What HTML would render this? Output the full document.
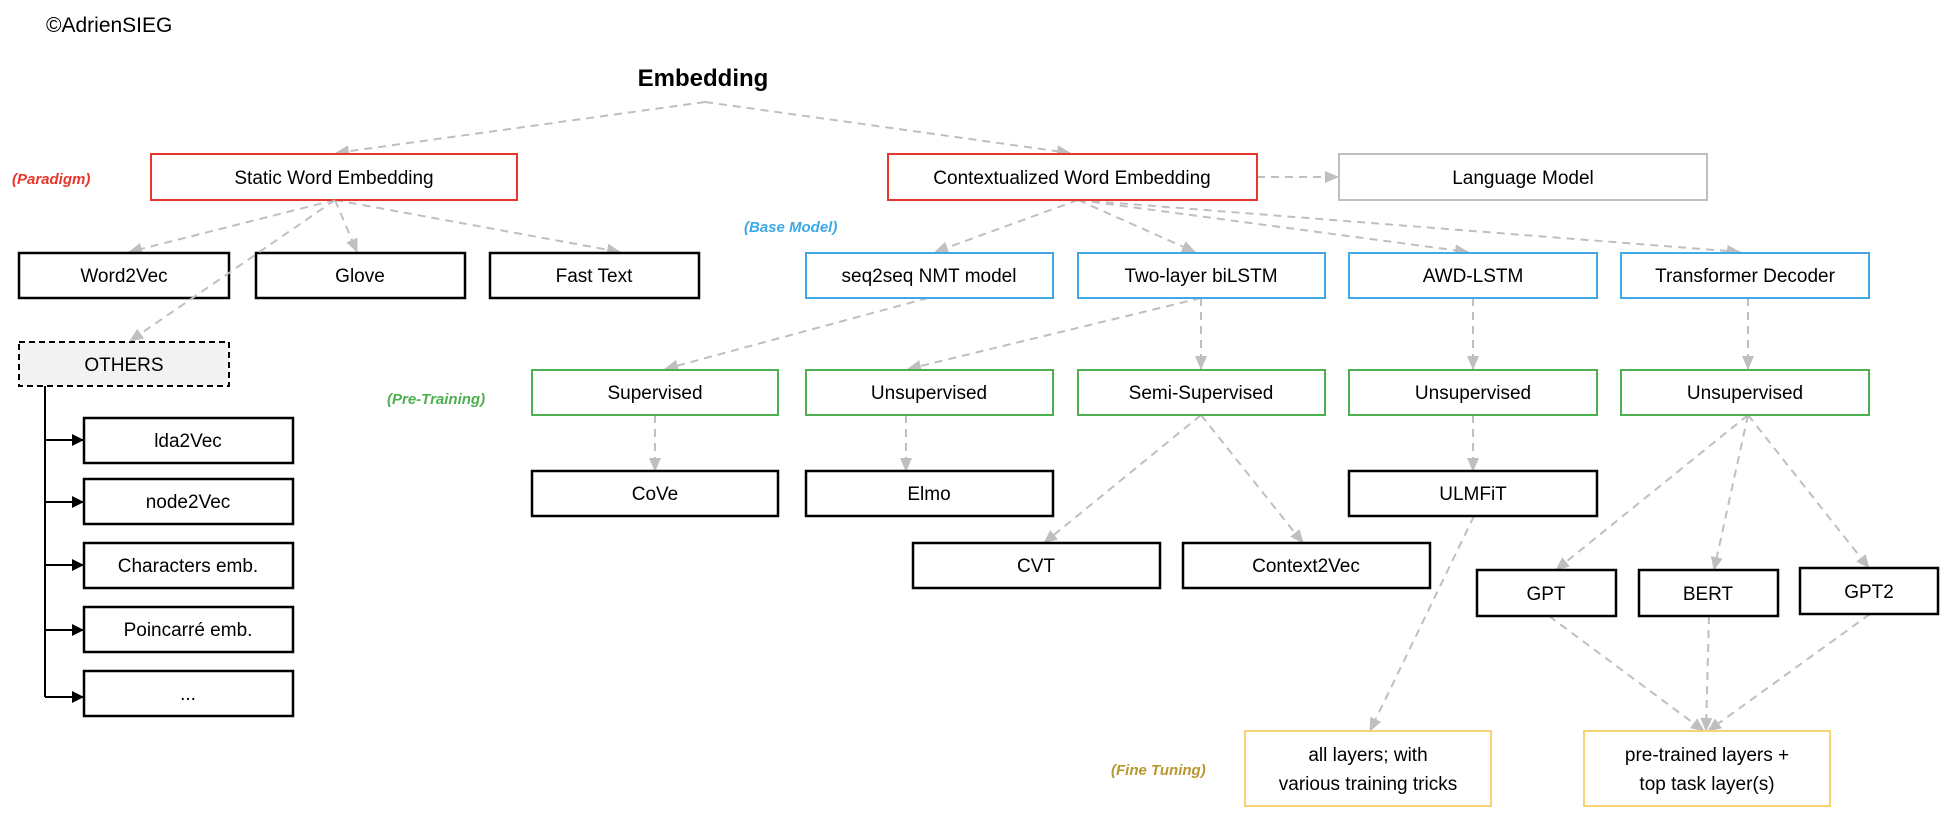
<!DOCTYPE html>
<html><head><meta charset="utf-8"><style>
html,body{margin:0;padding:0;background:#fff;}
svg{display:block;}
text{font-family:"Liberation Sans",sans-serif;}
</style></head><body>
<svg width="1950" height="818" viewBox="0 0 1950 818" xmlns="http://www.w3.org/2000/svg">
<defs>
<marker id="g" markerWidth="14" markerHeight="14" refX="13" refY="7" orient="auto" markerUnits="userSpaceOnUse"><path d="M0,1 L14,7 L0,13 z" fill="#bfbfbf"/></marker>
<marker id="k" markerWidth="12" markerHeight="12" refX="11" refY="6" orient="auto" markerUnits="userSpaceOnUse"><path d="M0,0 L12,6 L0,12 z" fill="#000"/></marker>
</defs>
<text x="46" y="32" font-size="21">©AdrienSIEG</text>
<text x="703" y="86" font-size="24" font-weight="bold" text-anchor="middle">Embedding</text>

<g stroke="#bfbfbf" stroke-width="2" stroke-dasharray="8,6" fill="none" marker-end="url(#g)">
<line x1="705" y1="102" x2="336" y2="153"/>
<line x1="705" y1="102" x2="1070" y2="153"/>
<line x1="335" y1="200" x2="129" y2="252"/>
<line x1="335" y1="200" x2="357" y2="252"/>
<line x1="335" y1="200" x2="620" y2="252"/>
<line x1="1257" y1="177" x2="1338" y2="177"/>
<line x1="1078" y1="200" x2="935" y2="252"/>
<line x1="1078" y1="200" x2="1195" y2="252"/>
<line x1="1078" y1="200" x2="1468" y2="252"/>
<line x1="1078" y1="200" x2="1740" y2="252"/>
<line x1="928" y1="298" x2="665" y2="369"/>
<line x1="1201" y1="298" x2="908" y2="369"/>
<line x1="1201" y1="298" x2="1201" y2="369"/>
<line x1="1473" y1="298" x2="1473" y2="369"/>
<line x1="1748" y1="298" x2="1748" y2="369"/>
<line x1="655" y1="415" x2="655" y2="471"/>
<line x1="906" y1="415" x2="906" y2="471"/>
<line x1="1473" y1="415" x2="1473" y2="471"/>
<line x1="1201" y1="415" x2="1044" y2="543"/>
<line x1="1201" y1="415" x2="1303" y2="543"/>
<line x1="1474" y1="516" x2="1370" y2="731"/>
<line x1="1748" y1="415" x2="1556" y2="570"/>
<line x1="1748" y1="415" x2="1714" y2="570"/>
<line x1="1748" y1="415" x2="1869" y2="568"/>
<line x1="1549" y1="616" x2="1704" y2="731"/>
<line x1="1709" y1="616" x2="1706" y2="731"/>
<line x1="1870" y1="614" x2="1708" y2="731"/>
</g>

<g font-size="19" text-anchor="middle" fill="#000">
<rect x="151" y="154" width="366" height="46" fill="#fff" stroke="#e8362a" stroke-width="2"/><text x="334" y="184">Static Word Embedding</text>
<rect x="888" y="154" width="369" height="46" fill="#fff" stroke="#e8362a" stroke-width="2"/><text x="1072" y="184">Contextualized Word Embedding</text>
<rect x="1339" y="154" width="368" height="46" fill="#fff" stroke="#bfbfbf" stroke-width="2"/><text x="1523" y="184">Language Model</text>

<g fill="#fff" stroke="#000" stroke-width="2.5">
<rect x="19" y="253" width="210" height="45"/><rect x="256" y="253" width="209" height="45"/><rect x="490" y="253" width="209" height="45"/>
</g>
<text x="124" y="282">Word2Vec</text><text x="360" y="282">Glove</text><text x="594" y="282">Fast Text</text>

<g fill="#fff" stroke="#3fa8e6" stroke-width="2">
<rect x="806" y="253" width="247" height="45"/><rect x="1078" y="253" width="247" height="45"/><rect x="1349" y="253" width="248" height="45"/><rect x="1621" y="253" width="248" height="45"/>
</g>
<text x="929" y="282">seq2seq NMT model</text><text x="1201" y="282">Two-layer biLSTM</text><text x="1473" y="282">AWD-LSTM</text><text x="1745" y="282">Transformer Decoder</text>

<rect x="19" y="342" width="210" height="44" fill="#f2f2f2" stroke="#000" stroke-width="2" stroke-dasharray="6,4"/><text x="124" y="371">OTHERS</text>

<g fill="#fff" stroke="#4caf50" stroke-width="2">
<rect x="532" y="370" width="246" height="45"/><rect x="806" y="370" width="247" height="45"/><rect x="1078" y="370" width="247" height="45"/><rect x="1349" y="370" width="248" height="45"/><rect x="1621" y="370" width="248" height="45"/>
</g>
<text x="655" y="399">Supervised</text><text x="929" y="399">Unsupervised</text><text x="1201" y="399">Semi-Supervised</text><text x="1473" y="399">Unsupervised</text><text x="1745" y="399">Unsupervised</text>

<g fill="#fff" stroke="#000" stroke-width="2.5">
<rect x="532" y="471" width="246" height="45"/><rect x="806" y="471" width="247" height="45"/><rect x="1349" y="471" width="248" height="45"/>
<rect x="913" y="543" width="247" height="45"/><rect x="1183" y="543" width="247" height="45"/>
<rect x="1477" y="570" width="139" height="46"/><rect x="1639" y="570" width="139" height="46"/><rect x="1800" y="568" width="138" height="46"/>
</g>
<text x="655" y="500">CoVe</text><text x="929" y="500">Elmo</text><text x="1473" y="500">ULMFiT</text>
<text x="1036" y="572">CVT</text><text x="1306" y="572">Context2Vec</text>
<text x="1546" y="600">GPT</text><text x="1708" y="600">BERT</text><text x="1869" y="598">GPT2</text>

<g fill="#fff" stroke="#f7d472" stroke-width="2">
<rect x="1245" y="731" width="246" height="75"/><rect x="1584" y="731" width="246" height="75"/>
</g>
<text x="1368" y="761">all layers; with</text><text x="1368" y="790">various training tricks</text>
<text x="1707" y="761">pre-trained layers +</text><text x="1707" y="790">top task layer(s)</text>

<g fill="#fff" stroke="#000" stroke-width="2.5">
<rect x="84" y="418" width="209" height="45"/><rect x="84" y="479" width="209" height="45"/><rect x="84" y="543" width="209" height="45"/><rect x="84" y="607" width="209" height="45"/><rect x="84" y="671" width="209" height="45"/>
</g>
<text x="188" y="447">lda2Vec</text><text x="188" y="508">node2Vec</text><text x="188" y="572">Characters emb.</text><text x="188" y="636">Poincarré emb.</text><text x="188" y="700">...</text>
</g>

<line x1="335" y1="200" x2="130" y2="341" stroke="#bfbfbf" stroke-width="2" stroke-dasharray="8,6" marker-end="url(#g)"/>

<g stroke="#000" stroke-width="2" fill="none">
<line x1="45" y1="386" x2="45" y2="697"/>
<line x1="45" y1="440" x2="83" y2="440" marker-end="url(#k)"/>
<line x1="45" y1="502" x2="83" y2="502" marker-end="url(#k)"/>
<line x1="45" y1="565" x2="83" y2="565" marker-end="url(#k)"/>
<line x1="45" y1="630" x2="83" y2="630" marker-end="url(#k)"/>
<line x1="45" y1="697" x2="83" y2="697" marker-end="url(#k)"/>
</g>

<g font-size="15" font-weight="bold" font-style="italic">
<text x="12" y="184" fill="#e8362a">(Paradigm)</text>
<text x="744" y="232" fill="#3fa8e6">(Base Model)</text>
<text x="387" y="404" fill="#4caf50">(Pre-Training)</text>
<text x="1111" y="775" fill="#b8962e">(Fine Tuning)</text>
</g>
</svg>
</body></html>
